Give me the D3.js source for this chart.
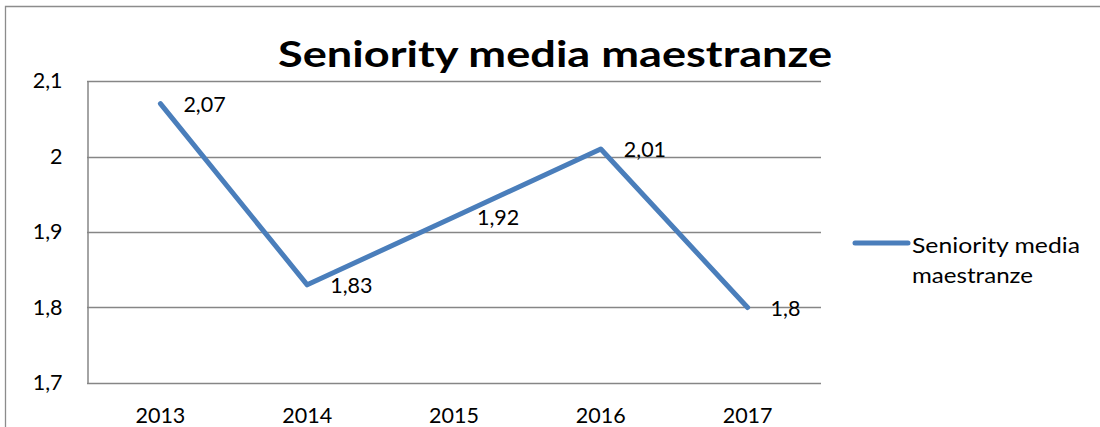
<!DOCTYPE html>
<html>
<head>
<meta charset="utf-8">
<script src="https://cdn.jsdelivr.net/npm/d3@7"></script>
<style>
  html, body { margin: 0; padding: 0; background: #fff; }
  svg { display: block; font-family: Lato, "Open Sans", sans-serif; }
</style>
</head>
<body>
<svg id="chart" width="1100" height="427"></svg>
<script>
// Chart data
const categories = ["2013", "2014", "2015", "2016", "2017"];
const values = [2.07, 1.83, 1.92, 2.01, 1.8];
const yTicks = [1.7, 1.8, 1.9, 2.0, 2.1];
const seriesName = "Seniority media maestranze";
const chartTitle = "Seniority media maestranze";

const svg = d3.select("#chart");
const fmt = v => String(+v.toFixed(2)).replace(".", ",");

const plot = { left: 87, right: 821, top: 81, bottom: 383 };
const lineColor = "#4A7EBB";
const gridColor = "#868686";
const labelSize = 21.5;

// Outer frame (left and top edges visible)
svg.append("path")
  .attr("d", "M5.5,427 V6.5 H1100")
  .attr("fill", "none")
  .attr("stroke", "#8c8c8c")
  .attr("stroke-width", 1.3);

const x = d3.scaleBand().domain(categories).range([plot.left, plot.right]);
const y = d3.scaleLinear().domain([1.7, 2.1]).range([plot.bottom, plot.top]);

// Horizontal gridlines
svg.append("g")
  .selectAll("line")
  .data(yTicks)
  .join("line")
  .attr("x1", plot.left).attr("x2", plot.right)
  .attr("y1", d => Math.round(y(d)) + 0.5).attr("y2", d => Math.round(y(d)) + 0.5)
  .attr("stroke", gridColor).attr("stroke-width", 1.5);

// Y axis
const yAxis = svg.append("g")
  .attr("transform", `translate(${plot.left + 0.5},0)`)
  .call(d3.axisLeft(y).tickValues(yTicks).tickFormat(fmt).tickSize(0).tickPadding(25));
yAxis.select(".domain").attr("stroke", gridColor).attr("stroke-width", 1.5);
yAxis.selectAll("text").attr("font-size", labelSize).attr("fill", "#000")
  .attr("font-family", "Lato, sans-serif");

// X axis labels (baseline placed just above the bottom edge)
const xAxis = svg.append("g")
  .attr("transform", `translate(0,${plot.bottom})`)
  .call(d3.axisBottom(x).tickSize(0));
xAxis.select(".domain").remove();
xAxis.selectAll("text")
  .attr("y", 40).attr("dy", 0)
  .attr("font-size", labelSize).attr("fill", "#000")
  .attr("font-family", "Lato, sans-serif");

// Series line
const cx = d => x(d) + x.bandwidth() / 2;
const pts = categories.map((c, i) => [cx(c), y(values[i])]);
svg.append("path")
  .attr("d", d3.line()(pts))
  .attr("fill", "none")
  .attr("stroke", lineColor)
  .attr("stroke-width", 5)
  .attr("stroke-linejoin", "round")
  .attr("stroke-linecap", "round");

// Data labels
svg.append("g")
  .selectAll("text")
  .data(categories.map((c, i) => ({ c, v: values[i] })))
  .join("text")
  .attr("x", d => cx(d.c) + 23)
  .attr("y", d => y(d.v) + 8.5)
  .attr("font-size", labelSize)
  .attr("fill", "#000")
  .text(d => fmt(d.v));

// Title
svg.append("text")
  .attr("x", 278).attr("y", 67)
  .attr("font-size", 36)
  .attr("font-weight", "bold")
  .attr("fill", "#000")
  .attr("textLength", 554)
  .attr("lengthAdjust", "spacingAndGlyphs")
  .text(chartTitle);

// Legend
const lg = svg.append("g");
lg.append("line")
  .attr("x1", 855).attr("x2", 908)
  .attr("y1", 243).attr("y2", 243)
  .attr("stroke", lineColor).attr("stroke-width", 5)
  .attr("stroke-linecap", "round");
const words = seriesName.split(" ");
const lines = [words.slice(0, 2).join(" "), words.slice(2).join(" ")];
const lineWidths = [168, 121];
lg.selectAll("text.lg")
  .data(lines)
  .join("text")
  .attr("class", "lg")
  .attr("x", 912)
  .attr("y", (d, i) => 253 + i * 30)
  .attr("font-size", labelSize)
  .attr("fill", "#000")
  .attr("textLength", (d, i) => lineWidths[i])
  .attr("lengthAdjust", "spacingAndGlyphs")
  .text(d => d);
</script>
</body>
</html>
